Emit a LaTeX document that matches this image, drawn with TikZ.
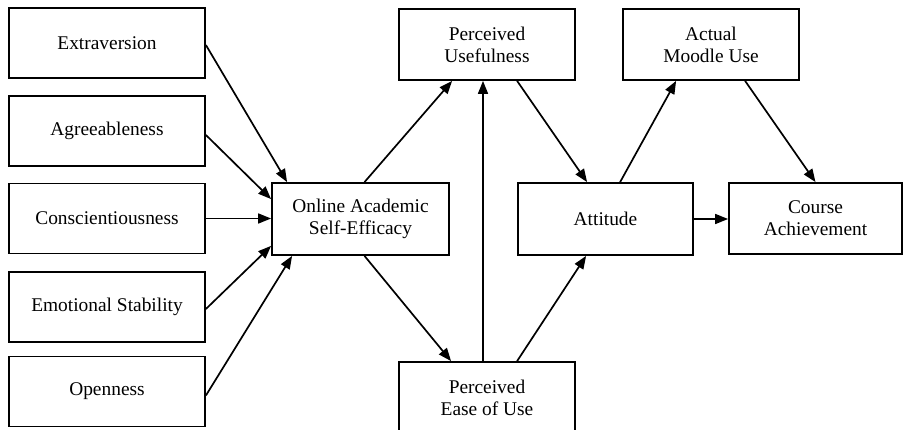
\documentclass[tikz,border=0pt]{standalone}
\usepackage{fontspec}
\setmainfont{Liberation Serif}
\usetikzlibrary{arrows.meta,calc}
\tikzset{
  box/.style={draw=black, line width=1.8pt, align=center, inner sep=0pt,
    font=\fontsize{19.4}{22}\selectfont},
  lbox/.style={box, minimum width=196pt, minimum height=70pt},
  arr/.style={line width=1.7pt, -{Triangle[length=13pt,width=10pt]}}
}
\begin{document}
\begin{tikzpicture}[x=1pt,y=-1pt]
\useasboundingbox (0,0) rectangle (903,430);
\clip (0,0) rectangle (903,430);
\fill[white] (0,0) rectangle (903,430);
\node[lbox] (ext) at (107,43) {Extraversion};
\node[lbox] (agr) at (107,131) {Agreeableness};
\node[lbox] (con) at (107,218.5) {Conscientiousness};
\node[lbox] (emo) at (107,307) {Emotional Stability};
\node[lbox] (ope) at (107,391.5) {Openness};
\node[box, minimum width=177pt, minimum height=72pt] (oase) at (360.5,219) {Online Academic\\Self-Efficacy};
\node[box, minimum width=176pt, minimum height=71pt] (pu) at (487,44.5) {Perceived\\Usefulness};
\node[box, minimum width=176pt, minimum height=71pt] (peou) at (487,397.5) {Perceived\\Ease of Use};
\node[box, minimum width=175pt, minimum height=72pt] (att) at (605.5,219) {Attitude};
\node[box, minimum width=176pt, minimum height=71pt] (amu) at (711,44.5) {Actual\\Moodle Use};
\node[box, minimum width=173pt, minimum height=71pt] (ca) at (815.5,218.5) {Course\\Achievement};

\draw[arr] ([yshift=-2pt]ext.east) -- ([xshift=16pt]oase.north west);
\draw[arr] ([yshift=-4pt]agr.east) -- ([yshift=-17pt]oase.north west);
\draw[arr] (con.east) -- (con.east -| oase.west);
\draw[arr] ([yshift=-2pt]emo.east) -- ([yshift=10pt]oase.south west);
\draw[arr] ([yshift=-4pt]ope.east) -- ([xshift=21pt]oase.south west);
\draw[arr] ([xshift=4pt]oase.north) -- ([xshift=54pt]pu.south west);
\draw[arr] ([xshift=4pt]oase.south) -- ([xshift=53pt]peou.north west);
\draw[arr] ([xshift=-4pt]peou.north) -- ([xshift=-4pt]pu.south);
\draw[arr] ([xshift=119pt]pu.south west) -- ([xshift=70pt]att.north west);
\draw[arr] ([xshift=119pt]peou.north west) -- ([xshift=69pt]att.south west);
\draw[arr] ([xshift=103pt]att.north west) -- ([xshift=54pt]amu.south west);
\draw[arr] ([xshift=123pt]amu.south west) -- (ca.north);
\draw[arr] (att.east) -- (att.east -| ca.west);
\end{tikzpicture}
\end{document}
